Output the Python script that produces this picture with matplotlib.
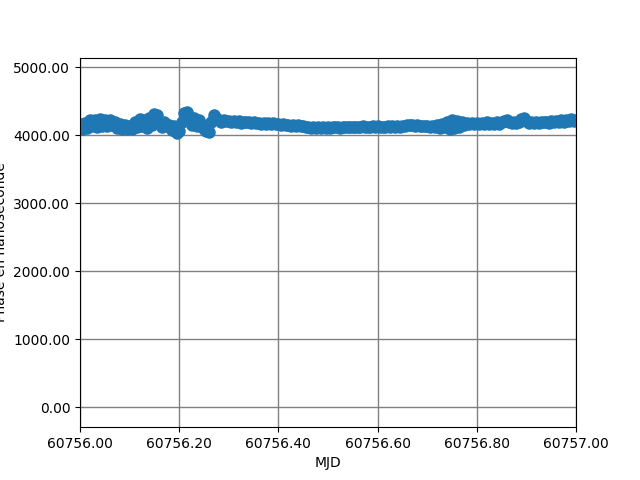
#Tracé de la phase (ns) en fonction du MJD

import numpy as np
import matplotlib
matplotlib.use('Agg')
import matplotlib.pyplot as plt
from matplotlib.ticker import FormatStrFormatter

#Début et pas d'échantillonnage (jours)
mjd_debut = 60756.0
pas = 0.005

#Valeurs de phase (ns), une toutes les 0.005 j
phase = [
    4170, 4100, 4180, 4110, 4220, 4130, 4230, 4120, 4235, 4140,
    4230, 4130, 4220, 4150, 4190, 4110, 4170, 4090, 4150, 4090,
    4130, 4100, 4200, 4120, 4240, 4130, 4230, 4110, 4260, 4150,
    4320, 4300, 4180, 4120, 4200, 4130, 4150, 4080, 4140, 4030,
    4060, 4200, 4330, 4340, 4280, 4150, 4250, 4130, 4230, 4150,
    4100, 4060, 4050, 4200, 4300, 4260, 4220, 4200, 4230, 4210,
    4210, 4195, 4215, 4190, 4205, 4185, 4200, 4190, 4195, 4185,
    4190, 4175, 4185, 4170, 4180, 4165, 4175, 4165, 4175, 4160,
    4165, 4150, 4160, 4145, 4155, 4140, 4150, 4135, 4145, 4130,
    4140, 4125, 4120, 4110, 4125, 4105, 4115, 4105, 4120, 4110,
    4120, 4110, 4120, 4115, 4125, 4110, 4120, 4115, 4125, 4115,
    4125, 4115, 4125, 4120, 4130, 4115, 4125, 4120, 4130, 4120,
    4130, 4120, 4125, 4120, 4130, 4125, 4130, 4120, 4135, 4125,
    4135, 4140, 4150, 4145, 4155, 4140, 4145, 4135, 4140, 4130,
    4135, 4125, 4140, 4120, 4150, 4110, 4170, 4120, 4200, 4100,
    4220, 4110, 4210, 4120, 4190, 4150, 4180, 4160, 4185, 4165,
    4185, 4170, 4180, 4165, 4190, 4170, 4185, 4165, 4190, 4170,
    4200, 4215, 4225, 4190, 4175, 4190, 4180, 4200, 4240, 4250,
    4215, 4180, 4195, 4185, 4200, 4185, 4195, 4190, 4200, 4185,
    4205, 4190, 4210, 4195, 4220, 4200, 4225, 4205, 4235, 4215,
    4225,
]
mjd = mjd_debut + pas * np.arange(len(phase))

xticks = [60756.0, 60756.2, 60756.4, 60756.6, 60756.8, 60757.0]
yticks = [0, 1000, 2000, 3000, 4000, 5000]

fig, ax = plt.subplots(figsize=(6.4, 4.8), dpi=100)
ax.plot(mjd, phase, 'o', markersize=8, color='#1f77b4')

ax.set_xlim(60756.0, 60757.0)
ax.set_ylim(-293, 5143)
ax.set_xticks(xticks)
ax.set_yticks(yticks)
ax.xaxis.set_major_formatter(FormatStrFormatter('%.2f'))
ax.yaxis.set_major_formatter(FormatStrFormatter('%.2f'))
ax.grid(True, color='gray', linewidth=1)

ax.set_xlabel('MJD')
ax.set_ylabel('Phase en nanoseconde')

plt.savefig('out.png', dpi=100)
